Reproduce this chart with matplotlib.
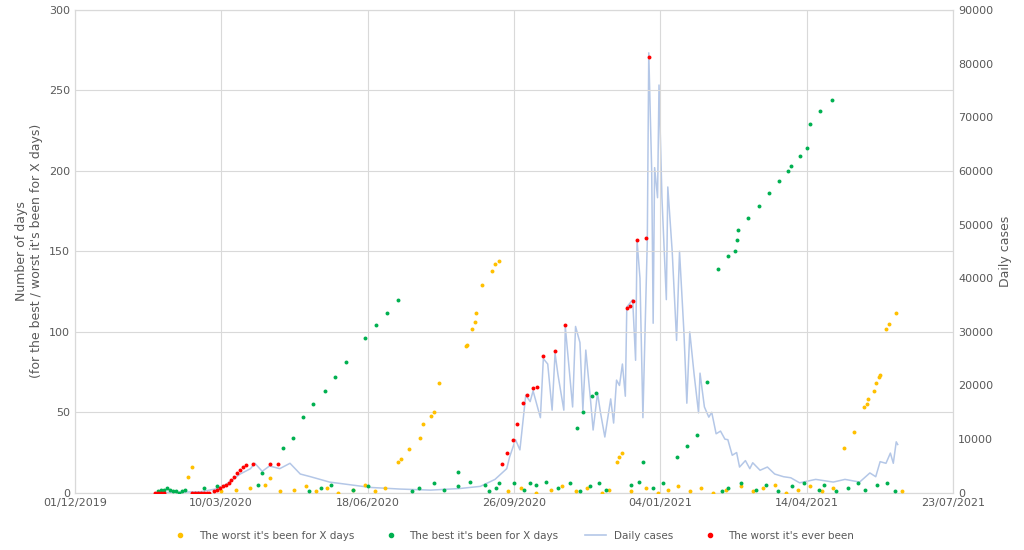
import numpy as np
import pandas as pd
import matplotlib.pyplot as plt
import matplotlib.dates as mdates

START = pd.Timestamp('2019-12-01')

# 日均病例（天数偏移, 病例数）
case_days = [55, 86, 96, 103, 113, 120, 123, 128, 133, 140, 147, 154, 161, 174, 188, 202, 222, 243, 263, 277,
             287, 295, 297, 301, 304, 308, 311, 313, 316, 318, 320, 323, 326, 328, 330, 334, 335, 337, 340, 342,
             345, 347, 349, 352, 354, 357, 359, 362, 366, 368, 370, 372, 374, 376, 377, 381, 383, 384, 386, 388,
             391, 392, 394, 395, 396, 398, 399, 401, 404, 405, 408, 411, 413, 416, 418, 420, 423, 426, 427, 430,
             433, 435, 438, 441, 444, 446, 449, 452, 454, 458, 461, 463, 468, 473, 478, 484, 489, 495, 506, 518,
             526, 536, 543, 547, 550, 554, 557, 559, 561, 562]
case_vals = [0, 200, 700, 1500, 3500, 4500, 5500, 4000, 5000, 4500, 5500, 3500, 3000, 2000, 1500, 1000, 700, 500, 800, 1200,
             2500, 4500, 6700, 9900, 8000, 18200, 17000, 19000, 16000, 14000, 25000, 24000, 15400, 26000, 22000, 15400, 31000, 25000, 16000, 31000,
             28000, 15400, 26600, 18000, 11700, 18600, 15000, 10400, 17500, 13000, 21000, 20000, 24000, 18000, 34600, 36000, 24700, 47000, 40000, 14000,
             47000, 82000, 60000, 31600, 60600, 55000, 76000, 55000, 36000, 57000, 45000, 28400, 45000, 30000, 16700, 30000, 22000, 14900, 22300, 16000,
             14100, 15000, 11000, 11500, 10000, 9900, 7000, 7500, 4800, 6000, 4500, 5600, 4200, 4800, 3500, 3000, 2800, 1860, 2500, 2000,
             2500, 2000, 3700, 3000, 5800, 5500, 7400, 5500, 9500, 9000]

# 最差纪录（红）
red_days = [55, 57, 59, 61, 80, 82, 84, 86, 88, 90, 92, 95, 97, 99, 101, 103, 105, 107, 109, 111, 113, 115, 117, 122, 133, 139,
            292, 295, 299, 302, 306, 309, 313, 316, 320, 328, 335, 377, 379, 381, 384, 390, 392]
red_vals = [0, 0, 0, 0, 0, 0, 0, 0, 0, 0, 0, 1, 2, 3, 4, 5, 6, 8, 10, 12, 14, 16, 17, 18, 18, 18,
            18, 25, 33, 43, 56, 61, 65, 66, 85, 88, 104, 115, 116, 119, 157, 158, 271]

# 最好的 X 天（绿）
green_days = [57, 59, 61, 63, 65, 67, 69, 71, 73, 75, 88, 97, 125, 128, 142, 149, 156, 163, 171, 178, 185, 198, 206, 213, 221,
              160, 168, 175, 190, 200, 230, 235, 245, 252, 262, 270, 280, 283, 288, 300, 307, 315, 322, 330, 338, 345, 352,
              358, 363, 380, 385, 395, 402, 442, 446, 455, 465, 472, 480, 490, 498, 508, 512, 520, 528, 535, 540, 548, 555, 560,
              262, 290, 311, 343, 347, 353, 356, 388, 411, 418, 425, 432, 439, 446, 451, 452, 453, 460, 467, 474, 481, 487, 489,
              495, 500, 502, 509, 517]
green_vals = [1, 2, 2, 3, 2, 1, 1, 0, 1, 2, 3, 4, 5, 12, 28, 34, 47, 55, 63, 72, 81, 96, 104, 112, 120,
              1, 3, 5, 2, 4, 1, 3, 6, 2, 4, 7, 5, 1, 3, 6, 2, 5, 7, 3, 6, 1, 4,
              6, 2, 5, 7, 3, 6, 1, 3, 6, 2, 5, 1, 4, 6, 2, 5, 1, 3, 6, 2, 5, 6, 1,
              13, 6, 6, 40, 50, 60, 62, 19, 22, 29, 36, 69, 139, 147, 150, 157, 163, 171, 178, 186, 194, 200, 203,
              209, 214, 229, 237, 244]

# 最差的 X 天（黄）
yellow_days = [77, 80, 100, 110, 120, 130, 133, 140, 150, 158, 165, 172, 180, 190, 198, 205, 212, 221, 223, 228, 236, 238, 243, 245, 249,
               267, 268, 271, 273, 274, 278, 285, 287, 290, 296, 305, 315, 325, 333, 342, 350, 360, 365, 370, 372, 374, 380, 390,
               398, 405, 412, 420, 428, 436, 445, 455, 463, 470, 478, 486, 494, 502, 510, 518, 525, 532, 539, 541, 542, 546, 547,
               549, 550, 554, 556, 561, 565]
yellow_vals = [10, 16, 1, 2, 3, 5, 9, 1, 2, 4, 1, 3, 0, 2, 5, 1, 3, 19, 21, 27, 34, 43, 48, 50, 68,
               91, 92, 102, 106, 112, 129, 138, 142, 144, 1, 3, 0, 2, 4, 1, 3, 0, 2, 19, 22, 25, 1, 3,
               0, 2, 4, 1, 3, 0, 2, 4, 1, 3, 5, 0, 2, 4, 1, 3, 28, 38, 53, 55, 58, 63, 68,
               72, 73, 102, 105, 112, 1]

x_ticks = ['2019-12-01', '2020-03-10', '2020-06-18', '2020-09-26', '2021-01-04', '2021-04-14', '2021-07-23']


def to_dates(days):
    return START + pd.to_timedelta(days, unit='D')


fig, ax = plt.subplots(figsize=(10.24, 5.5), dpi=100)
fig.subplots_adjust(left=0.073, right=0.931, bottom=0.104, top=0.982)
ax2 = ax.twinx()

ax2.plot(to_dates(case_days), case_vals, color='#B4C7E7', linewidth=1.1, zorder=1)
ax.scatter(to_dates(yellow_days), yellow_vals, s=8, color='#FFC000', linewidths=0, zorder=3)
ax.scatter(to_dates(green_days), green_vals, s=8, color='#00B050', linewidths=0, zorder=3)
ax.scatter(to_dates(red_days), red_vals, s=8, color='#FF0000', linewidths=0, zorder=4)
ax.set_zorder(ax2.get_zorder() + 1)
ax.patch.set_visible(False)

ticks = pd.to_datetime(x_ticks)
ax.set_xlim(ticks[0], ticks[-1])
ax.set_xticks(ticks)
ax.xaxis.set_major_formatter(mdates.DateFormatter('%d/%m/%Y'))
ax.set_ylim(0, 300)
ax.set_yticks(range(0, 301, 50))
ax2.set_ylim(0, 90000)
ax2.set_yticks(range(0, 90001, 10000))
ax.grid(True, color='#D9D9D9', linewidth=0.8)
ax.set_axisbelow(True)

for a in (ax, ax2):
    a.tick_params(labelsize=8, colors='#595959', length=0)
    for s in a.spines.values():
        s.set_color('#D9D9D9')

ax.set_ylabel("Number of days\n(for the best / worst it's been for X days)", fontsize=9, color='#595959')
ax2.set_ylabel('Daily cases', fontsize=9, color='#595959')

handles = [
    plt.Line2D([], [], marker='o', ls='', color='#FFC000', ms=3, label="The worst it's been for X days"),
    plt.Line2D([], [], marker='o', ls='', color='#00B050', ms=3, label="The best it's been for X days"),
    plt.Line2D([], [], color='#B4C7E7', lw=1.2, label='Daily cases'),
    plt.Line2D([], [], marker='o', ls='', color='#FF0000', ms=3, label="The worst it's ever been"),
]
fig.legend(handles=handles, loc='lower center', ncol=4, frameon=False, fontsize=7.5,
           bbox_to_anchor=(0.5, 0.0), labelcolor='#595959', columnspacing=2.5)

plt.savefig('out.png')
